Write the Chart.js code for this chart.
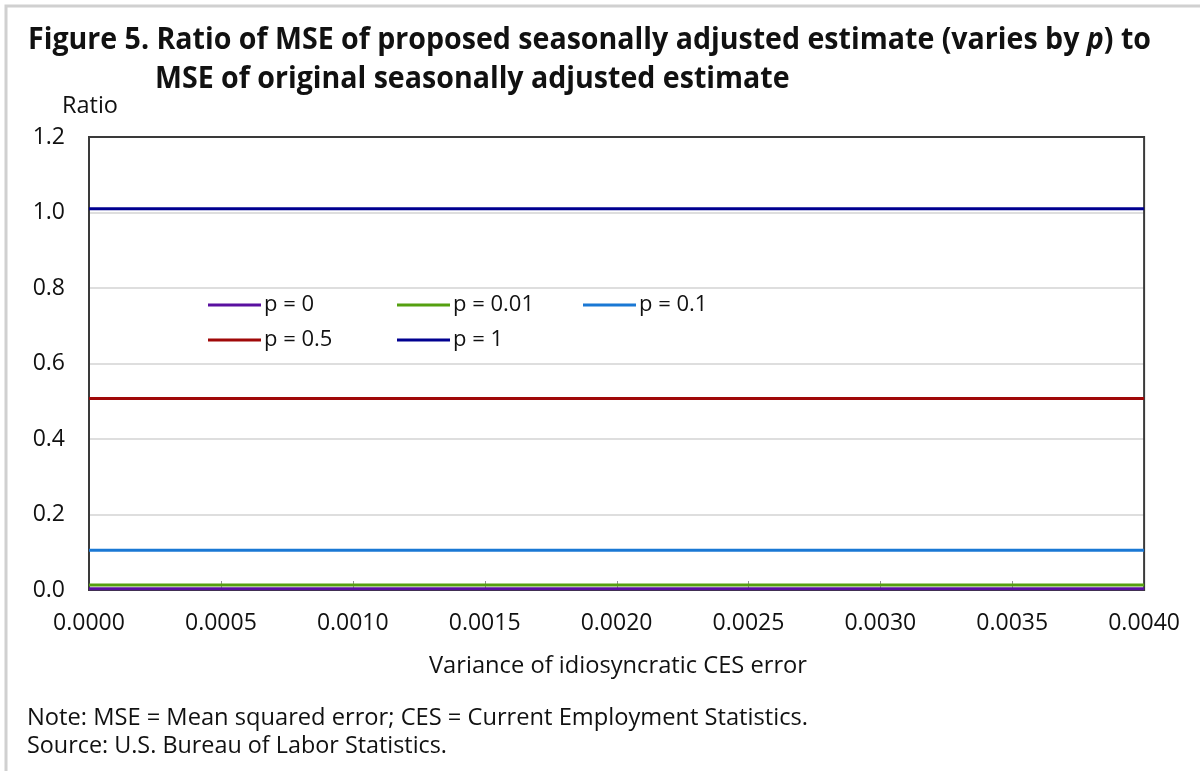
<!DOCTYPE html>
<html>
<head>
<meta charset="utf-8">
<script src="https://cdn.jsdelivr.net/npm/chart.js@4"></script>
<style>
  html, body { margin: 0; padding: 0; background: #fff; }
  #wrap { width: 1200px; height: 771px; position: relative; }
</style>
</head>
<body>
<div id="wrap"><canvas id="mseChart" width="1200" height="771"></canvas></div>
<script>
// Data
const variance = [0, 0.0005, 0.001, 0.0015, 0.002, 0.0025, 0.003, 0.0035, 0.004];
const seriesLabels = ['p = 0', 'p = 0.01', 'p = 0.1', 'p = 0.5', 'p = 1'];
const p0   = [0.003, 0.003, 0.003, 0.003, 0.003, 0.003, 0.003, 0.003, 0.003];
const p001 = [0.013, 0.013, 0.013, 0.013, 0.013, 0.013, 0.013, 0.013, 0.013];
const p01  = [0.105, 0.105, 0.105, 0.105, 0.105, 0.105, 0.105, 0.105, 0.105];
const p05  = [0.507, 0.507, 0.507, 0.507, 0.507, 0.507, 0.507, 0.507, 0.507];
const p1   = [1.01, 1.01, 1.01, 1.01, 1.01, 1.01, 1.01, 1.01, 1.01];
const seriesColors = ['#5a10a0', '#55a010', '#1a78d4', '#a00808', '#000090'];

const allSeries = [p0, p001, p01, p05, p1];

// draw text squeezed/stretched to a given width (reference font is condensed)
function fitText(ctx, text, x, y, width, font) {
    ctx.save();
    ctx.font = font;
    const w = ctx.measureText(text).width;
    ctx.translate(x, y);
    ctx.scale(width / w, 1);
    ctx.fillText(text, 0, 0);
    ctx.restore();
}

const decorations = {
    id: 'decorations',
    beforeDatasetsDraw(chart) {
        const ctx = chart.ctx;
        const a = chart.chartArea;
        const xs = chart.scales.x;
        // small inner tick marks on the bottom axis
        ctx.save();
        ctx.strokeStyle = '#909090';
        ctx.lineWidth = 1;
        xs.ticks.forEach(t => {
            const px = Math.round(xs.getPixelForValue(t.value)) + 0.5;
            ctx.beginPath();
            ctx.moveTo(px, a.bottom);
            ctx.lineTo(px, a.bottom - 9);
            ctx.stroke();
        });
        // plot frame
        ctx.strokeStyle = '#3a3a3a';
        ctx.lineWidth = 2;
        ctx.strokeRect(a.left, a.top, a.right - a.left, a.bottom - a.top);
        ctx.restore();
    },
    afterDraw(chart) {
        const ctx = chart.ctx;
        ctx.save();
        // outer box lines
        ctx.strokeStyle = '#d0d0d0';
        ctx.lineWidth = 3;
        ctx.beginPath();
        ctx.moveTo(6, 771);
        ctx.lineTo(6, 6);
        ctx.lineTo(1200, 6);
        ctx.stroke();

        ctx.fillStyle = '#111';
        ctx.textBaseline = 'alphabetic';
        ctx.textAlign = 'left';

        // title, line 1 with italic p
        const bold = 'bold 30px "Open Sans"';
        const boldIt = 'italic bold 30px "Open Sans"';
        const parts = [
            ['Figure 5. Ratio of MSE of proposed seasonally adjusted estimate (varies by ', bold],
            ['p', boldIt],
            [') to', bold]
        ];
        let total = 0;
        parts.forEach(p => { ctx.font = p[1]; total += ctx.measureText(p[0]).width; });
        const sx = (1151 - 28) / total;
        let cx = 28;
        parts.forEach(p => {
            ctx.font = p[1];
            const w = ctx.measureText(p[0]).width;
            ctx.save();
            ctx.translate(cx, 49);
            ctx.scale(sx, 1);
            ctx.fillText(p[0], 0, 0);
            ctx.restore();
            cx += w * sx;
        });
        ctx.font = bold;
        const l2 = 'MSE of original seasonally adjusted estimate';
        ctx.save();
        ctx.translate(155, 88);
        ctx.scale(sx, 1);
        ctx.fillText(l2, 0, 0);
        ctx.restore();

        // axis labels and notes
        fitText(ctx, 'Ratio', 62, 113, 56, '23px "Open Sans"');
        fitText(ctx, 'Variance of idiosyncratic CES error', 429, 673, 378, '23px "Open Sans"');
        fitText(ctx, 'Note: MSE = Mean squared error; CES = Current Employment Statistics.', 27, 725, 781, '23px "Open Sans"');
        fitText(ctx, 'Source: U.S. Bureau of Labor Statistics.', 27, 753, 420, '23px "Open Sans"');

        // legend inside the plot
        const cols = [208, 397, 583];
        const rows = [305, 340];
        ctx.font = '22px "Open Sans"';
        ctx.textBaseline = 'middle';
        chart.data.datasets.forEach((ds, i) => {
            const x = cols[i % 3];
            const y = rows[Math.floor(i / 3)];
            ctx.strokeStyle = ds.borderColor;
            ctx.lineWidth = 3;
            ctx.beginPath();
            ctx.moveTo(x, y);
            ctx.lineTo(x + 53, y);
            ctx.stroke();
            ctx.fillStyle = '#111';
            ctx.fillText(ds.label, x + 56, y);
        });
        ctx.restore();
    }
};

const ctx = document.getElementById('mseChart').getContext('2d');
new Chart(ctx, {
    type: 'line',
    data: {
        datasets: seriesLabels.map((label, i) => ({
            label: label,
            data: variance.map((v, j) => ({ x: v, y: allSeries[i][j] })),
            borderColor: seriesColors[i],
            backgroundColor: seriesColors[i],
            borderWidth: 3,
            pointRadius: 0,
            tension: 0,
            clip: false
        }))
    },
    options: {
        responsive: false,
        animation: false,
        layout: {
            padding: { top: 137, right: 51, bottom: 121, left: 0 }
        },
        plugins: {
            legend: { display: false },
            tooltip: { enabled: false }
        },
        scales: {
            x: {
                type: 'linear',
                min: 0,
                max: 0.004,
                afterFit: s => { s.height = 60; },
                grid: { display: false, drawTicks: false },
                border: { display: false },
                ticks: {
                    stepSize: 0.0005,
                    padding: 20,
                    color: '#111',
                    font: { family: 'Open Sans', size: 23 },
                    maxRotation: 0,
                    autoSkip: false,
                    callback: v => v.toFixed(4)
                }
            },
            y: {
                min: 0,
                max: 1.2,
                afterFit: s => { s.width = 89; },
                grid: {
                    drawTicks: false,
                    lineWidth: 2,
                    color: c => (c.tick.value === 0 || c.tick.value === 1.2) ? 'rgba(0,0,0,0)' : '#dedede'
                },
                border: { display: false },
                ticks: {
                    stepSize: 0.2,
                    padding: 24,
                    color: '#111',
                    font: { family: 'Open Sans', size: 23 },
                    callback: v => v.toFixed(1)
                }
            }
        }
    },
    plugins: [decorations]
});
</script>
</body>
</html>
